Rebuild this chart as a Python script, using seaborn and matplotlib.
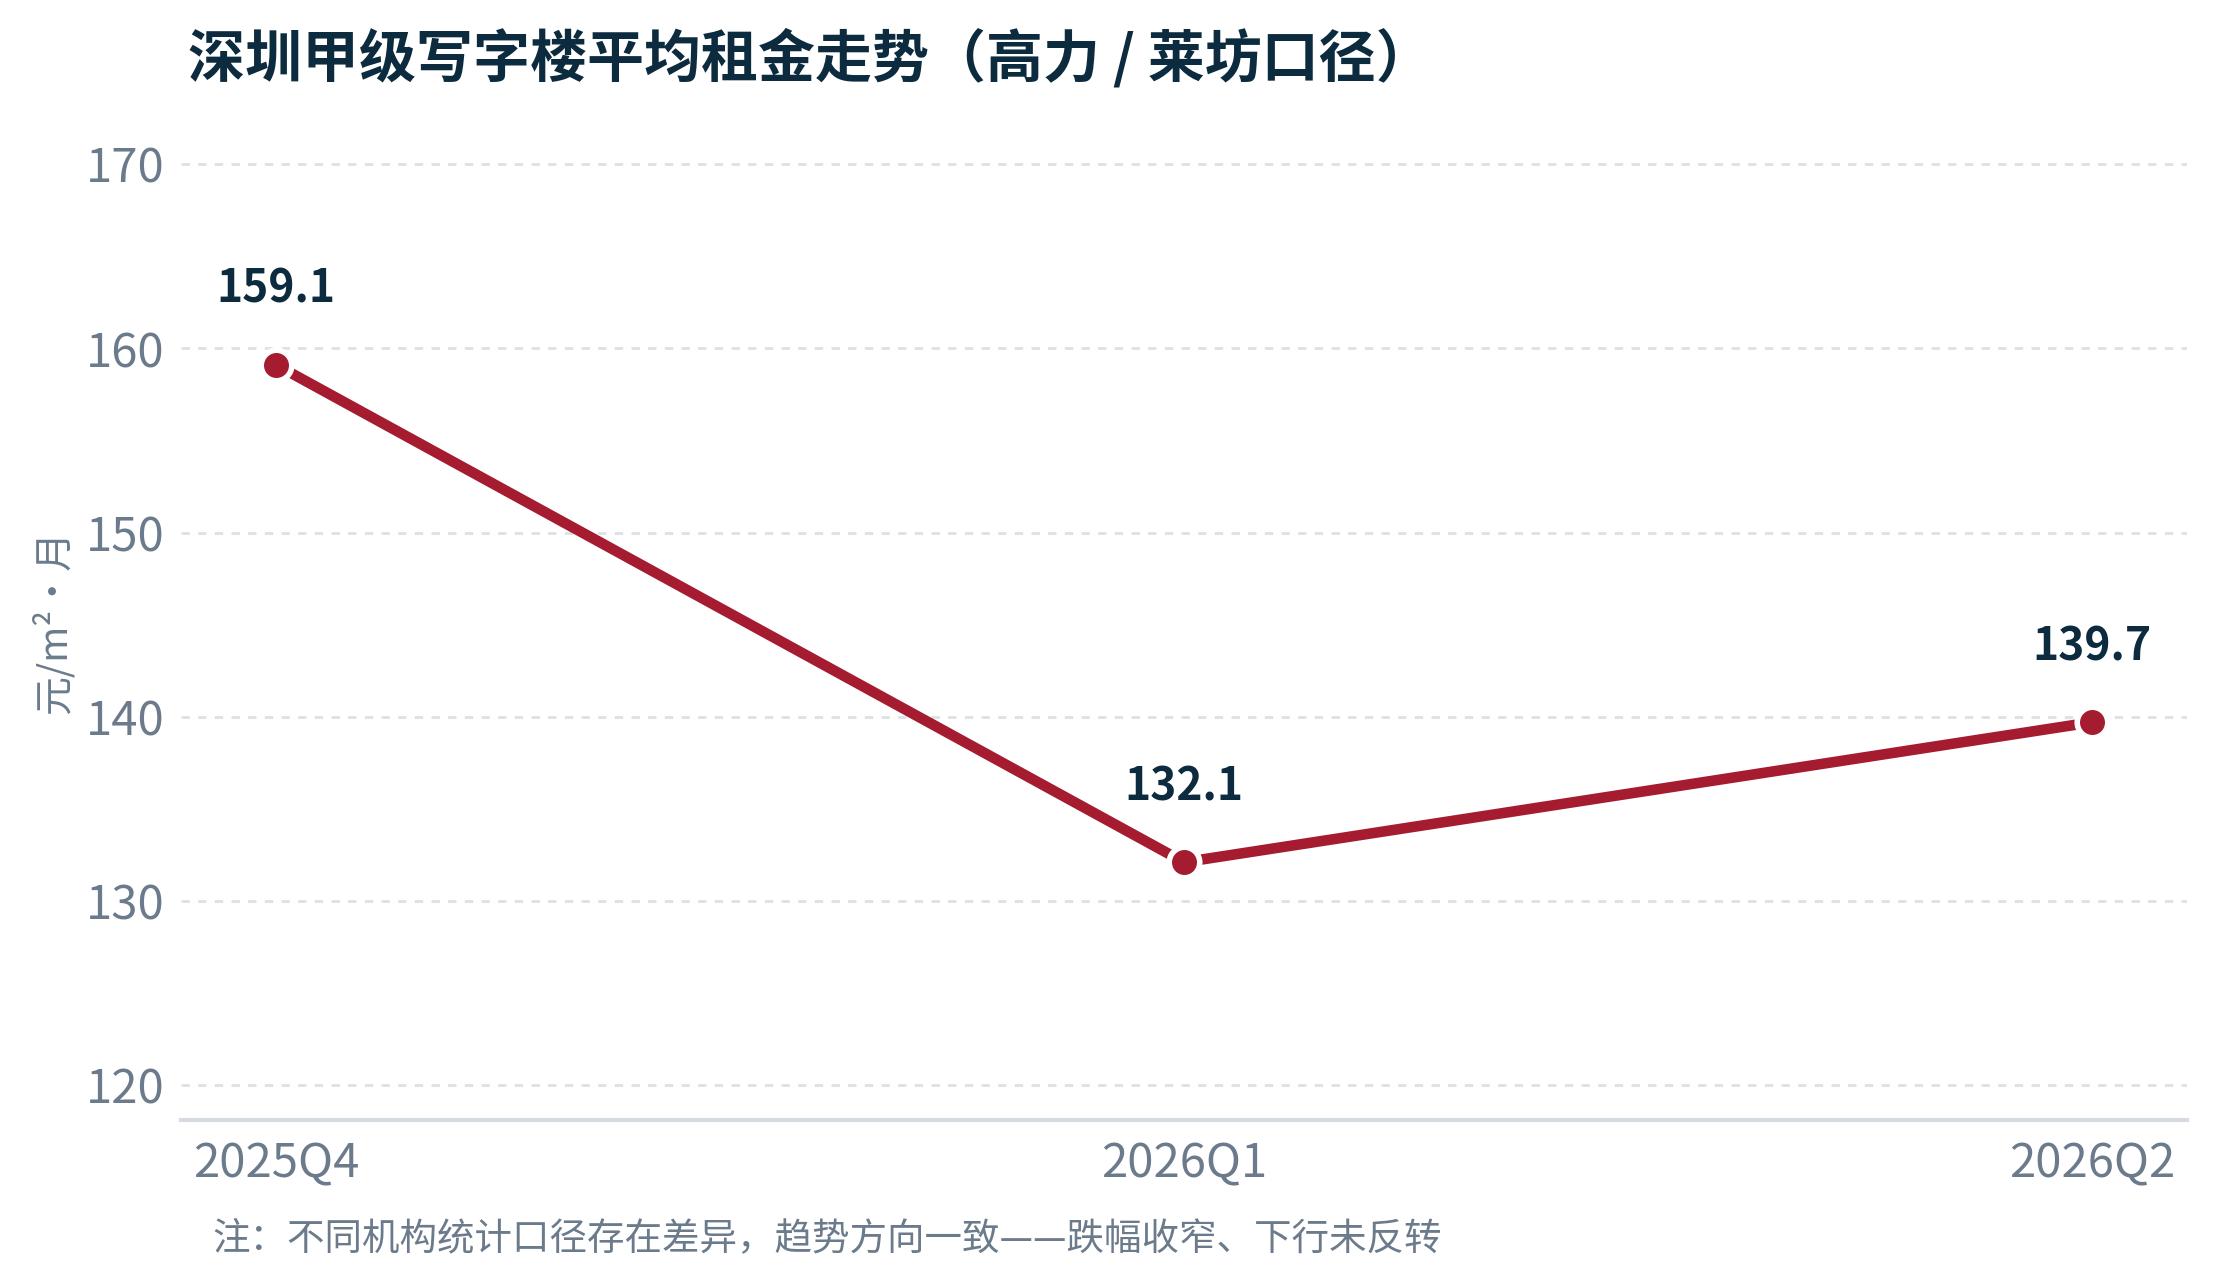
import pandas as pd
import matplotlib
matplotlib.use("Agg")
import matplotlib.pyplot as plt
import seaborn as sns

# Data
quarters = ["2025Q4", "2026Q1", "2026Q2"]
rent = [159.1, 132.1, 139.7]
y_ticks = [120, 130, 140, 150, 160, 170]

title = "深圳甲级写字楼平均租金走势（高力 / 莱坊口径）"
ylabel = "元/m²·月"
note = "注：不同机构统计口径存在差异，趋势方向一致——跌幅收窄、下行未反转"

df = pd.DataFrame({"quarter": quarters, "rent": rent})

sns.set_theme(style="white")
plt.rcParams['font.family'] = ['Noto Sans CJK SC', 'DejaVu Sans']

red = "#a51c30"
navy = "#0d2b3e"
gray = "#6b7b8c"

fig = plt.figure(figsize=(11.085, 6.43), dpi=200)
ax = fig.add_axes([0.0816, 0.129, 0.905, 0.772])

sns.lineplot(data=df, x="quarter", y="rent", ax=ax, color=red, linewidth=3.8,
             marker="o", markersize=11, markeredgecolor="white",
             markeredgewidth=2, sort=False)

# value labels
for i, v in enumerate(rent):
    ax.annotate(f"{v:.1f}", (i, v), xytext=(0, 27), textcoords="offset points",
                ha="center", va="center", fontsize=16, fontweight="bold",
                color=navy)

ax.set_xlim(-0.105, 2.105)
ax.set_ylim(118.1, 172)
ax.set_yticks(y_ticks)
ax.yaxis.grid(True, linestyle=(0, (3, 3)), color="#dde1e5", linewidth=1)
ax.xaxis.grid(False)
ax.tick_params(axis="both", length=0, labelsize=17, labelcolor=gray)
ax.tick_params(axis="x", pad=7)
ax.tick_params(axis="y", pad=6)
ax.set_xlabel("")
ax.set_ylabel("")

for s in ["top", "right", "left"]:
    ax.spines[s].set_visible(False)
ax.spines["bottom"].set_color("#d5dbe0")
ax.spines["bottom"].set_linewidth(1.5)

fig.text(0.0848, 0.954, title, fontsize=20.5, fontweight="bold", color=navy,
         ha="left", va="center")
fig.text(0.024, 0.516, ylabel, fontsize=14, color=gray, rotation=90,
         ha="center", va="center")
fig.text(0.0956, 0.037, note, fontsize=13.5, color=gray, ha="left", va="center")

fig.savefig("out.png", dpi=200)
